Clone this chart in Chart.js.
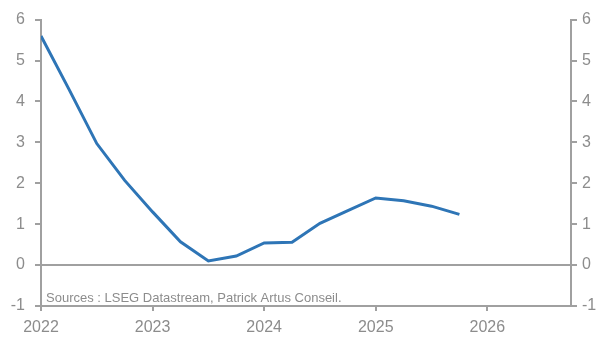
<!DOCTYPE html>
<html>
<head>
<meta charset="utf-8">
<script src="https://cdn.jsdelivr.net/npm/chart.js@4.4.1/dist/chart.umd.min.js"></script>
<style>
  html, body { margin: 0; padding: 0; background: #fff; }
  #wrap { width: 597px; height: 341px; }
</style>
</head>
<body>
<div id="wrap"><canvas id="chart" width="597" height="341"></canvas></div>
<script>
// quarterly observations (fractional year)
var quarters = [2022.0, 2022.25, 2022.5, 2022.75, 2023.0, 2023.25, 2023.5, 2023.75,
    2024.0, 2024.25, 2024.5, 2024.75, 2025.0, 2025.25, 2025.5, 2025.75];
var values = [5.6, 4.3, 2.97, 2.07, 1.3, 0.57, 0.1, 0.22,
    0.54, 0.56, 1.02, 1.33, 1.64, 1.57, 1.44, 1.24];
var yearTicks = [2022, 2023, 2024, 2025, 2026];
var sourceText = 'Sources : LSEG Datastream, Patrick Artus Conseil.';

var gray = '#a0a0a0';
var labelGray = '#8c8c8c';
var font = '"Liberation Sans", Arial, sans-serif';

var points = quarters.map(function (q, i) {
    return { x: q, y: values[i] };
});

var sourcePlugin = {
    id: 'source',
    afterDraw: function (chart) {
        var ctx = chart.ctx;
        var a = chart.chartArea;
        ctx.save();
        ctx.font = '13px ' + font;
        ctx.fillStyle = labelGray;
        ctx.textBaseline = 'alphabetic';
        ctx.fillText(sourceText, a.left + 5, a.bottom - 4);
        ctx.restore();
    }
};

new Chart(document.getElementById('chart'), {
    type: 'line',
    data: {
        datasets: [{
            data: points,
            borderColor: '#2e75b6',
            borderWidth: 3,
            pointRadius: 0,
            tension: 0,
            fill: false
        }]
    },
    options: {
        responsive: false,
        animation: false,
        layout: { padding: { top: 19, left: 0, right: 0, bottom: 0 } },
        plugins: {
            legend: { display: false },
            tooltip: { enabled: false }
        },
        scales: {
            x: {
                type: 'linear',
                min: 2022,
                max: 2026.75,
                afterBuildTicks: function (scale) {
                    scale.ticks = yearTicks.map(function (v) { return { value: v }; });
                },
                afterFit: function (scale) { scale.height = 35; },
                grid: { drawOnChartArea: false, tickColor: gray, tickLength: 5, lineWidth: 2 },
                border: { display: true, color: gray, width: 2 },
                ticks: {
                    color: labelGray,
                    font: { family: font, size: 16 },
                    padding: 7,
                    maxRotation: 0,
                    callback: function (v) { return String(v); }
                }
            },
            y: {
                position: 'left',
                min: -1,
                max: 6,
                afterFit: function (scale) { scale.width = 41; },
                grid: {
                    color: function (c) { return c.tick && c.tick.value === 0 ? gray : 'rgba(0,0,0,0)'; },
                    tickColor: gray,
                    tickLength: 6,
                    lineWidth: 2
                },
                border: { display: true, color: gray, width: 2 },
                ticks: {
                    stepSize: 1,
                    color: labelGray,
                    font: { family: font, size: 16 },
                    padding: 10
                }
            },
            y2: {
                position: 'right',
                min: -1,
                max: 6,
                afterFit: function (scale) { scale.width = 26; },
                grid: { drawOnChartArea: false, tickColor: gray, tickLength: 6, lineWidth: 2 },
                border: { display: true, color: gray, width: 2 },
                ticks: {
                    stepSize: 1,
                    color: labelGray,
                    font: { family: font, size: 16 },
                    padding: 5
                }
            }
        }
    },
    plugins: [sourcePlugin]
});
</script>
</body>
</html>
